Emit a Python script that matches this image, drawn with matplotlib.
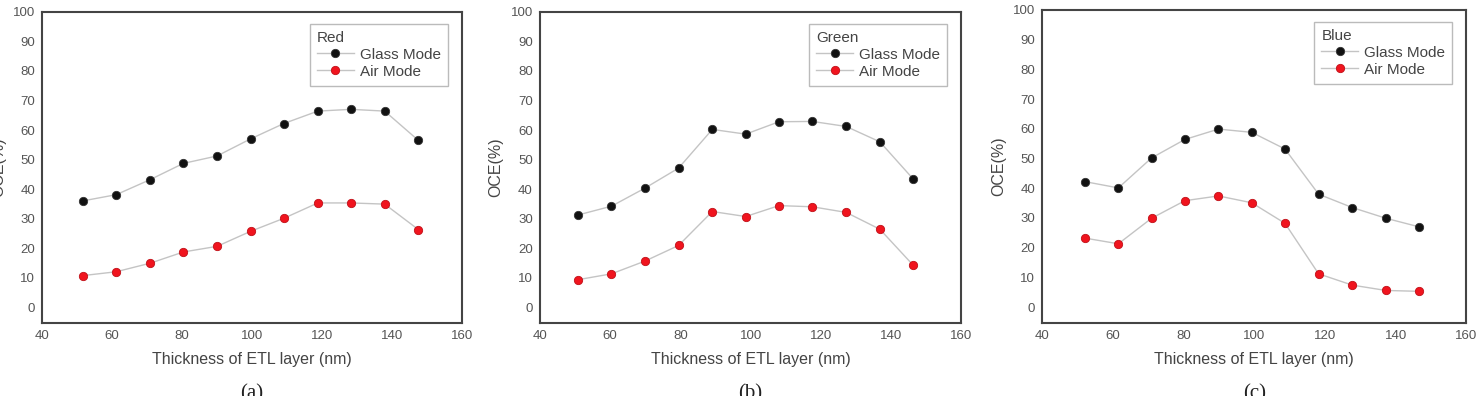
#!/usr/bin/env python3

# Imports
import matplotlib
matplotlib.use('Agg')
import matplotlib.pyplot as plt

plt.rcParams['font.family'] = ['Liberation Sans', 'DejaVu Sans']

# Data (thickness in nm, OCE in %)
x_red = [51.7, 61.2, 70.9, 80.4, 90.0, 99.6, 109.1, 118.8, 128.3, 137.9, 147.5]
glass_red = [36.0, 38.1, 43.2, 48.7, 51.2, 57.0, 62.2, 66.4, 67.0, 66.4, 56.5]
air_red = [10.7, 12.0, 14.9, 18.7, 20.6, 25.7, 30.1, 35.3, 35.3, 34.9, 26.3]

x_green = [50.8, 60.4, 69.9, 79.5, 89.1, 98.6, 108.1, 117.6, 127.2, 136.8, 146.3]
glass_green = [31.2, 34.2, 40.3, 47.1, 60.2, 58.6, 62.8, 62.9, 61.2, 56.0, 43.4]
air_green = [9.3, 11.3, 15.6, 20.9, 32.4, 30.7, 34.4, 34.0, 32.1, 26.4, 14.2]

x_blue = [52.2, 61.6, 71.0, 80.4, 89.9, 99.3, 108.7, 118.2, 127.7, 137.2, 146.6]
glass_blue = [42.2, 40.1, 50.2, 56.4, 59.9, 58.8, 53.2, 38.0, 33.5, 29.9, 27.0]
air_blue = [23.2, 21.3, 29.9, 35.8, 37.4, 35.1, 28.2, 11.2, 7.4, 5.6, 5.3]

panels = [
    ('Red', x_red, glass_red, air_red, '(a)'),
    ('Green', x_green, glass_green, air_green, '(b)'),
    ('Blue', x_blue, glass_blue, air_blue, '(c)'),
]

# Axes boxes in figure fractions
boxes = [
    [0.0284, 0.184, 0.284, 0.786],
    [0.365, 0.184, 0.285, 0.786],
    [0.7045, 0.184, 0.287, 0.791],
]

fig = plt.figure(figsize=(14.79, 3.96), dpi=100, facecolor='w')

for (title, xs, glass, air, cap), box in zip(panels, boxes):
    ax = fig.add_axes(box)
    ax.plot(xs, glass, '-o', color='#c4c4c4', lw=1.0, markersize=6,
            markerfacecolor='#111111', markeredgecolor='#333333', markeredgewidth=0.6,
            label='Glass Mode')
    ax.plot(xs, air, '-o', color='#c4c4c4', lw=1.0, markersize=6,
            markerfacecolor='#f0141e', markeredgecolor='#c01018', markeredgewidth=0.6,
            label='Air Mode')
    ax.set_xlim(40, 160)
    ax.set_ylim(-5.4, 100)
    ax.set_xticks(range(40, 161, 20))
    ax.set_yticks(range(0, 101, 10))
    ax.tick_params(length=0, labelsize=9.5, labelcolor='#555555', pad=5)
    for s in ax.spines.values():
        s.set_color('#444444')
        s.set_linewidth(1.5)
    ax.set_xlabel('Thickness of ETL layer (nm)', fontsize=11.5, color='#444444', labelpad=7)
    ax.set_ylabel('OCE(%)', fontsize=11.5, color='#444444', labelpad=5)
    leg = ax.legend(title=title, loc='upper right', bbox_to_anchor=(0.966, 0.962),
                    borderaxespad=0,
                    fontsize=11, title_fontsize=11, fancybox=False, framealpha=1,
                    edgecolor='#bbbbbb', handlelength=2.4, handletextpad=0.4,
                    borderpad=0.45, labelspacing=0.2)
    leg._legend_box.align = 'left'
    leg.get_title().set_color('#444444')
    for t in leg.get_texts():
        t.set_color('#444444')
    x0 = box[0] + box[2] / 2
    fig.text(x0, 1 - 384 / 396, cap, ha='center', va='top', fontsize=15,
             family='Liberation Serif', color='#222222')

fig.savefig('out.png', dpi=100)
